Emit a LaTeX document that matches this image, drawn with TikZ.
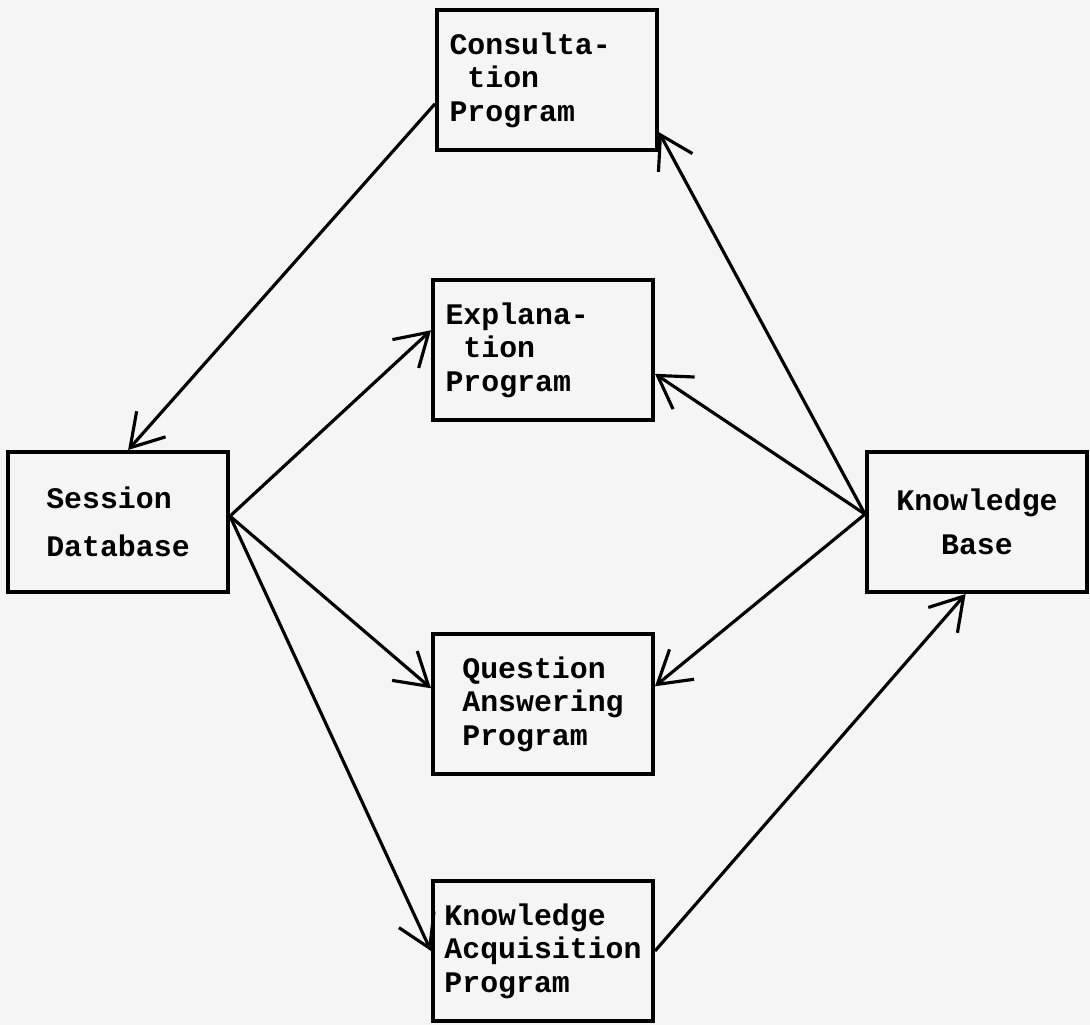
\documentclass[tikz,border=0pt]{standalone}
\usepackage{fontspec}
\setmonofont{Liberation Mono}
\usetikzlibrary{arrows.meta,positioning}

\begin{document}
\begin{tikzpicture}[->, >={Straight Barb[length=18pt,width=22pt]}, x=0.02cm, y=-0.02cm, line width=1.8pt]
    \tikzstyle{program}=[draw=black,line width=2.3pt,minimum width=4.4cm,minimum height=2.8cm,align=left,font=\ttfamily\bfseries\fontsize{17}{19}\selectfont]

    % paper
    \fill[black!4,-] (0,0) rectangle (1090,1025);
    \useasboundingbox (0,0) rectangle (1090,1025);

    \node[program,text width=3.9cm] (cons) at (547,80)  {Consulta-\\\phantom{C}tion\\Program\\[4pt]}; %top
    \node[program,text width=3.9cm] (expl) at (543,350) {Explana-\\\phantom{E}tion\\Program};
    \node[program] (sess) at (118,522) {Session\\[8pt]Database}; %left
    \node[program,align=center] (kb) at (977,522) {Knowledge\\[6pt]Base}; %right
    \node[program] (qa) at (543,704) {Question\\Answering\\Program};
    \node[program] (ka) at (543,951) {Knowledge\\Acquisition\\Program}; %bottom

    % edges from the left
    \path (cons.192) edge (sess.82);
    \path (sess.3) edge (expl.170);
    \path (sess.3) edge (qa.172);
    \path (sess.3) edge (ka.west);

    % edges from the right
    \path (kb.176) edge (cons.-25);
    \path (kb.176) edge (expl.-12);
    \path (kb.176) edge (qa.9);
    \path (ka.east) edge (kb.-99);

\end{tikzpicture}
\end{document}
